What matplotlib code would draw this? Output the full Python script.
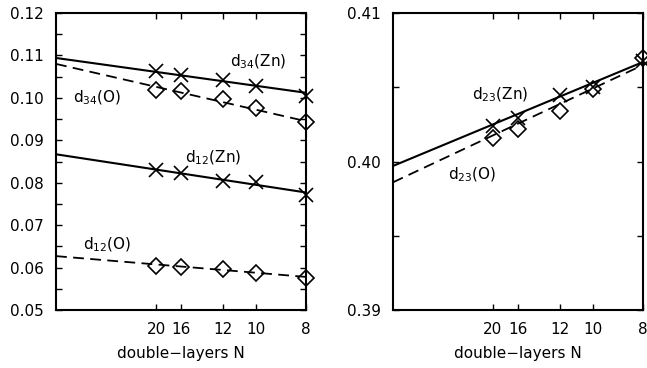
import matplotlib
matplotlib.use("Agg")
import matplotlib.pyplot as plt
import numpy as np

plt.rcParams['font.family'] = ['DejaVu Sans']
plt.rcParams['mathtext.fontset'] = 'dejavusans'
plt.rcParams['font.size'] = 11

# number of double layers, plotted against 1/N
N = [20, 16, 12, 10, 8]
tick_N = [20, 16, 12, 10, 8]

# left panel
d34_zn = [0.1064, 0.1055, 0.1043, 0.1029, 0.1004]
d34_o = [0.1018, 0.1016, 0.0998, 0.0975, 0.0944]
d12_zn = [0.0831, 0.0824, 0.0805, 0.0802, 0.0770]
d12_o = [0.0604, 0.0601, 0.0597, 0.0588, 0.0576]
# fitted lines: value at 1/N = 0 and at 1/N = 1/8
fit_d34_zn = [0.1094, 0.1012]
fit_d34_o = [0.1080, 0.0945]
fit_d12_zn = [0.0867, 0.0777]
fit_d12_o = [0.0627, 0.0578]

# right panel
d23_zn = [0.4024, 0.4029, 0.4045, 0.4050, 0.4068]
d23_o = [0.4016, 0.4022, 0.4034, 0.4049, 0.4070]
fit_d23_zn = [0.3997, 0.4067]
fit_d23_o = [0.3986, 0.4065]

x = [1.0 / n for n in N]
x_fit = [0.0, 1.0 / 8]

fig = plt.figure(figsize=(6.47, 3.68), dpi=100)
ax1 = fig.add_axes([56 / 647, 58 / 368, 250 / 647, 297 / 368])
ax2 = fig.add_axes([393 / 647, 58 / 368, 250 / 647, 297 / 368])

dash = (6, 3.5)
mk_x = dict(marker='x', ms=10, mew=1.2, color='black', ls='none', clip_on=False)
mk_d = dict(marker='D', ms=8, mew=1.2, mfc='none', mec='black', ls='none', clip_on=False)

def fit_line(ax, vals, dashed):
    if dashed:
        ax.plot(x_fit, vals, color='black', lw=1.3, ls='--', dashes=dash)
    else:
        ax.plot(x_fit, vals, color='black', lw=1.5)

fit_line(ax1, fit_d34_zn, False)
fit_line(ax1, fit_d34_o, True)
fit_line(ax1, fit_d12_zn, False)
fit_line(ax1, fit_d12_o, True)
ax1.plot(x, d34_zn, **mk_x)
ax1.plot(x, d34_o, **mk_d)
ax1.plot(x, d12_zn, **mk_x)
ax1.plot(x, d12_o, **mk_d)

fit_line(ax2, fit_d23_zn, False)
fit_line(ax2, fit_d23_o, True)
ax2.plot(x, d23_zn, **mk_x)
ax2.plot(x, d23_o, **mk_d)

ax1.text(0.0870, 0.1085, r'd$_{34}$(Zn)', ha='left', va='center')
ax1.text(0.0085, 0.1000, r'd$_{34}$(O)', ha='left', va='center')
ax1.text(0.0645, 0.0858, r'd$_{12}$(Zn)', ha='left', va='center')
ax1.text(0.0135, 0.0653, r'd$_{12}$(O)', ha='left', va='center')

ax2.text(0.0395, 0.4045, r'd$_{23}$(Zn)', ha='left', va='center')
ax2.text(0.0275, 0.3991, r'd$_{23}$(O)', ha='left', va='center')

for ax in (ax1, ax2):
    ax.set_xlim(0, 1.0 / 8)
    ax.set_xticks([1.0 / n for n in tick_N])
    ax.set_xticklabels([str(n) for n in tick_N])
    ax.set_xlabel('double\u2212layers N', labelpad=6)
    ax.tick_params(which='both', direction='in', top=True, right=True,
                   length=4, width=1)
    ax.tick_params(axis='x', pad=9)
    ax.tick_params(axis='y', pad=9)
    for s in ax.spines.values():
        s.set_linewidth(1.5)

ax1.set_ylim(0.05, 0.12)
ax1.set_yticks(np.arange(0.05, 0.1201, 0.01))
ax1.set_yticks(np.arange(0.055, 0.12, 0.01), minor=True)
ax1.set_yticklabels(['%.2f' % v for v in np.arange(0.05, 0.1201, 0.01)])

ax2.set_ylim(0.39, 0.41)
ax2.set_yticks([0.39, 0.40, 0.41])
ax2.set_yticks([0.395, 0.405], minor=True)
ax2.set_yticklabels(['0.39', '0.40', '0.41'])

fig.savefig('out.png', dpi=100)
